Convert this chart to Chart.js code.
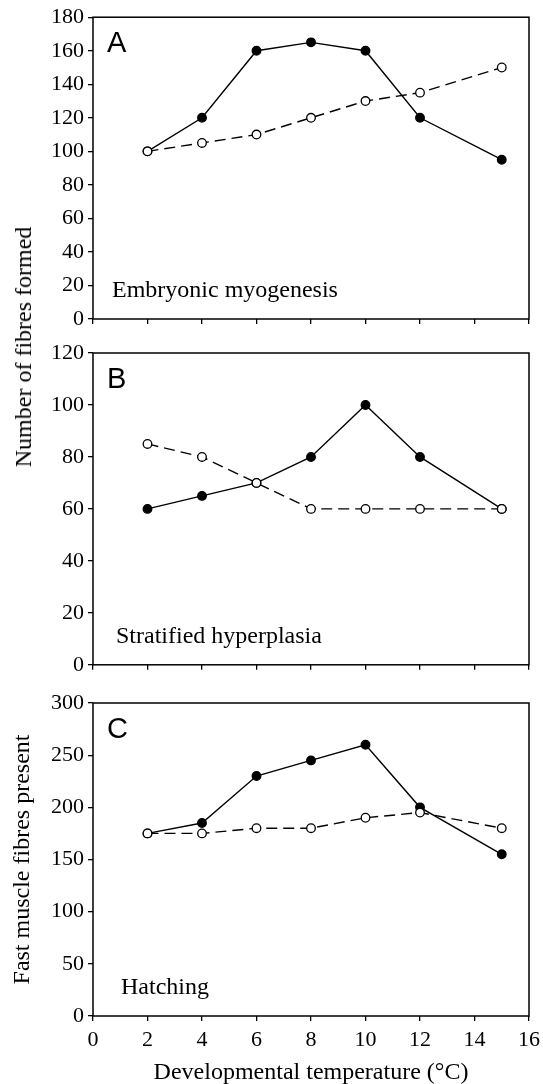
<!DOCTYPE html>
<html>
<head>
<meta charset="utf-8">
<script src="https://cdn.jsdelivr.net/npm/chart.js@4.4.0/dist/chart.umd.min.js"></script>
<style>
  html, body { margin: 0; padding: 0; background: #fff; overflow: hidden; }
  #wrap { position: relative; width: 543px; height: 1084px; }
  canvas { position: absolute; left: 0; }
  #yTitleAB {
    position: absolute; left: 23px; top: 347px;
    transform: translate(-50%, -50%) rotate(-90deg);
    font: 24px 'Liberation Serif', 'Times New Roman', serif;
    white-space: nowrap; line-height: 1; color: #000;
  }
</style>
</head>
<body>
<div id="wrap">
  <canvas id="chartA" width="543" height="340" style="top:0px"></canvas>
  <canvas id="chartB" width="543" height="352" style="top:330px"></canvas>
  <canvas id="chartC" width="543" height="404" style="top:680px"></canvas>
  <div id="yTitleAB">Number of fibres formed</div>
</div>
<script>
// data
const temps = [2, 4, 6, 8, 10, 12, 15];

const aFilled = [100, 120, 160, 165, 160, 120, 95];
const aOpen = [100, 105, 110, 120, 130, 135, 150];

const bFilled = [60, 65, 70, 80, 100, 80, 60];
const bOpen = [85, 80, 70, 60, 60, 60, 60];

const cFilled = [175, 185, 230, 245, 260, 200, 155];
const cOpen = [175, 175, 180, 180, 190, 195, 180];

const panelLetters = ['A', 'B', 'C'];
const panelNotes = ['Embryonic myogenesis', 'Stratified hyperplasia', 'Hatching'];
const yMax = [180, 120, 300];
const yStep = [20, 20, 50];
const xTitle = 'Developmental temperature (\u00B0C)';
const yTitleC = 'Fast muscle fibres present';

const SERIF = "'Liberation Serif', 'Times New Roman', serif";
Chart.defaults.font.family = SERIF;
Chart.defaults.color = '#000';

// box around plot + panel letter + note text
const panelDeco = {
  id: 'panelDeco',
  beforeDatasetsDraw(chart, args, opts) {
    const {ctx, chartArea: a} = chart;
    ctx.save();
    ctx.strokeStyle = '#000';
    ctx.lineWidth = 1.5;
    ctx.strokeRect(a.left, a.top, a.right - a.left, a.bottom - a.top);
    ctx.fillStyle = '#000';
    ctx.textBaseline = 'alphabetic';
    ctx.textAlign = 'left';
    ctx.font = "29px 'Liberation Sans', Arial, sans-serif";
    ctx.fillText(opts.letter, a.left + 14, a.top + 35);
    ctx.font = '24px ' + SERIF;
    ctx.fillText(opts.note, a.left + opts.noteX, a.bottom - 22);
    ctx.restore();
  }
};

function makePanel(id, i, filled, open, padTop, xHeight, isLast) {
  const ctx = document.getElementById(id).getContext('2d');
  return new Chart(ctx, {
    type: 'line',
    data: {
      datasets: [{
        data: temps.map((t, k) => ({x: t, y: open[k]})),
        borderColor: '#000',
        borderWidth: 1.4,
        borderDash: [11, 6],
        pointRadius: 4.3,
        pointBorderWidth: 1.3,
        pointBackgroundColor: '#fff',
        pointBorderColor: '#000'
      }, {
        data: temps.map((t, k) => ({x: t, y: filled[k]})),
        borderColor: '#000',
        borderWidth: 1.4,
        pointRadius: 4.3,
        pointBorderWidth: 1.3,
        pointBackgroundColor: '#000',
        pointBorderColor: '#000'
      }]
    },
    options: {
      responsive: false,
      animation: false,
      devicePixelRatio: 1,
      layout: {padding: {top: padTop, right: 14, left: 0, bottom: 0}},
      plugins: {
        legend: {display: false},
        tooltip: {enabled: false},
        panelDeco: {letter: panelLetters[i], note: panelNotes[i], noteX: [19, 23, 28][i]}
      },
      scales: {
        x: {
          type: 'linear',
          min: 0, max: 16,
          border: {display: false},
          grid: {drawOnChartArea: false, tickLength: 5, color: '#000', lineWidth: 1.3},
          ticks: {display: isLast, stepSize: 2, padding: 6, font: {size: 22}},
          title: {display: isLast, text: xTitle, font: {size: 24, lineHeight: 0.9}, padding: {top: 0, bottom: 0}},
          afterFit: s => { s.height = xHeight; s.paddingLeft = 0; s.paddingRight = 0; }
        },
        y: {
          min: 0, max: yMax[i],
          border: {display: false},
          grid: {drawOnChartArea: false, tickLength: 5, color: '#000', lineWidth: 1.3},
          ticks: {stepSize: yStep[i], padding: 4, font: {size: 22}},
          title: {display: isLast, text: yTitleC, font: {size: 24, lineHeight: 1}, padding: {top: 11, bottom: 0}},
          afterFit: s => { s.width = 93; }
        }
      }
    },
    plugins: [panelDeco]
  });
}

makePanel('chartA', 0, aFilled, aOpen, 16, 21, false);
makePanel('chartB', 1, bFilled, bOpen, 23, 15, false);
makePanel('chartC', 2, cFilled, cOpen, 23, 68, true);
</script>
</body>
</html>
